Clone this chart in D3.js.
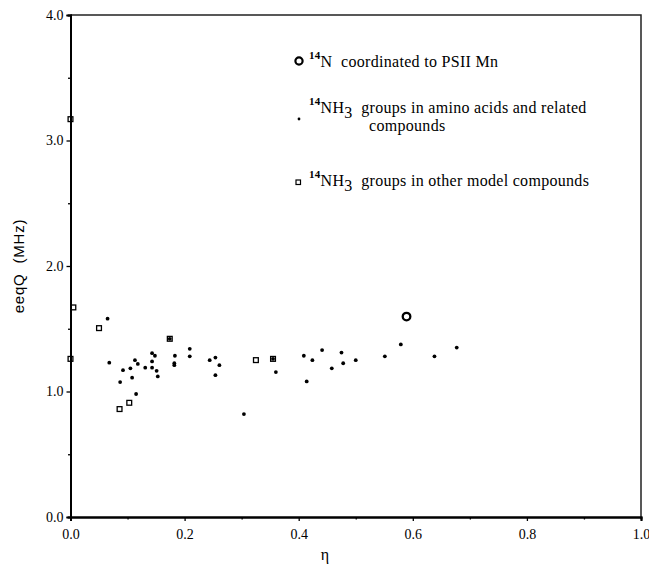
<!DOCTYPE html>
<html>
<head>
<meta charset="utf-8">
<script src="https://cdn.jsdelivr.net/npm/d3@7"></script>
<style>
  body { margin: 0; background: #fff; }
  text { fill: #000; white-space: pre; }
</style>
</head>
<body>
<div id="wrapper"></div>
<script>
// eta, eeqQ (MHz)
const psiiPoints = [[0.589, 1.597]]
const aminoPoints = [
  [0.065, 1.58], [0.068, 1.23], [0.092, 1.17], [0.087, 1.075], [0.115, 0.98],
  [0.105, 1.185], [0.108, 1.11], [0.113, 1.25], [0.118, 1.22], [0.131, 1.19],
  [0.143, 1.305], [0.148, 1.285], [0.143, 1.24], [0.143, 1.19], [0.151, 1.165],
  [0.153, 1.12], [0.174, 1.42], [0.183, 1.285], [0.182, 1.225], [0.182, 1.21],
  [0.209, 1.34], [0.209, 1.28], [0.244, 1.25], [0.254, 1.27], [0.261, 1.21],
  [0.254, 1.13], [0.304, 0.82], [0.355, 1.26], [0.36, 1.155], [0.409, 1.285],
  [0.414, 1.08], [0.424, 1.25], [0.441, 1.33], [0.458, 1.185], [0.475, 1.31],
  [0.478, 1.225], [0.50, 1.25], [0.551, 1.28], [0.579, 1.375], [0.638, 1.28],
  [0.677, 1.35]
]
const modelPoints = [
  [0.0, 3.17], [0.005, 1.67], [0.0, 1.26], [0.05, 1.505], [0.086, 0.86],
  [0.103, 0.91], [0.174, 1.42], [0.325, 1.25], [0.355, 1.26]
]
const xTicks = [0, 0.2, 0.4, 0.6, 0.8, 1.0]
const xMinorTicks = [0.1, 0.3, 0.5, 0.7, 0.9]
const yTicks = [0, 1, 2, 3, 4]
const yMinorTicks = [0.5, 1.5, 2.5, 3.5]

function drawChart() {
  let dimensions = {
    width: 649,
    height: 567,
    margins: { top: 15, right: 8, bottom: 50, left: 70.5 }
  }
  dimensions.boundedWidth = dimensions.width
    - dimensions.margins.left
    - dimensions.margins.right
  dimensions.boundedHeight = dimensions.height
    - dimensions.margins.top
    - dimensions.margins.bottom

  const wrapper = d3.select("#wrapper")
    .append("svg")
      .attr("width", dimensions.width)
      .attr("height", dimensions.height)

  const bounds = wrapper.append("g")
    .attr("transform", `translate(${dimensions.margins.left},${dimensions.margins.top})`)

  const xScale = d3.scaleLinear()
    .domain([0, 1])
    .range([0, dimensions.boundedWidth])
  const yScale = d3.scaleLinear()
    .domain([0, 4])
    .range([dimensions.boundedHeight, 0])

  // frame (top / right)
  bounds.append("path")
    .attr("d", `M0,0H${dimensions.boundedWidth}V${dimensions.boundedHeight}`)
    .attr("fill", "none")
    .attr("stroke", "#222")
    .attr("stroke-width", 1.5)

  // axes
  const serif = "Liberation Serif"
  const xAxis = bounds.append("g")
    .attr("transform", `translate(0,${dimensions.boundedHeight})`)
    .call(d3.axisBottom(xScale).tickValues(xTicks).tickFormat(d3.format(".1f")).tickSize(4).tickPadding(8))
  const xMinor = bounds.append("g")
    .attr("transform", `translate(0,${dimensions.boundedHeight})`)
    .call(d3.axisBottom(xScale).tickValues(xMinorTicks).tickFormat("").tickSize(2.5))
  const yAxis = bounds.append("g")
    .call(d3.axisLeft(yScale).tickValues(yTicks).tickFormat(d3.format(".1f")).tickSize(4).tickPadding(3))
  const yMinor = bounds.append("g")
    .call(d3.axisLeft(yScale).tickValues(yMinorTicks).tickFormat("").tickSize(2.5))

  ;[xAxis, xMinor, yAxis, yMinor].forEach(g => {
    g.attr("font-family", serif).attr("font-size", 14)
    g.select(".domain").attr("stroke", "#000").attr("stroke-width", 2)
    g.selectAll(".tick line").attr("stroke", "#000").attr("stroke-width", 1.3)
    g.selectAll("text").attr("fill", "#222")
  })

  // data
  bounds.append("g").selectAll("circle")
    .data(aminoPoints)
    .join("circle")
      .attr("cx", d => xScale(d[0]))
      .attr("cy", d => yScale(d[1]))
      .attr("r", 1.9)
      .attr("fill", "#000")

  bounds.append("g").selectAll("rect")
    .data(modelPoints)
    .join("rect")
      .attr("x", d => xScale(d[0]) - 2.4)
      .attr("y", d => yScale(d[1]) - 2.4)
      .attr("width", 4.8)
      .attr("height", 4.8)
      .attr("fill", "none")
      .attr("stroke", "#000")
      .attr("stroke-width", 1.3)

  bounds.append("g").selectAll("circle")
    .data(psiiPoints)
    .join("circle")
      .attr("cx", d => xScale(d[0]))
      .attr("cy", d => yScale(d[1]))
      .attr("r", 3.8)
      .attr("fill", "none")
      .attr("stroke", "#000")
      .attr("stroke-width", 2.3)

  // axis labels
  wrapper.append("text")
    .attr("transform", "translate(24,266) rotate(-90)")
    .attr("text-anchor", "middle")
    .attr("font-family", "Liberation Sans")
    .attr("font-size", 15)
    .attr("letter-spacing", 0.8)
    .text("eeqQ  (MHz)")

  wrapper.append("text")
    .attr("x", 325)
    .attr("y", 560)
    .attr("text-anchor", "middle")
    .attr("font-family", serif)
    .attr("font-size", 16)
    .text("η")

  // legend
  const legend = wrapper.append("g")
    .attr("font-family", serif)
    .attr("font-size", 16)
    .attr("letter-spacing", 0.3)

  legend.append("circle")
    .attr("cx", 299).attr("cy", 61).attr("r", 3.6)
    .attr("fill", "none").attr("stroke", "#000").attr("stroke-width", 2.2)
  const l1 = legend.append("text").attr("x", 309).attr("y", 67)
  l1.append("tspan").attr("dy", -8).attr("font-size", 11).attr("font-weight", "bold").text("14")
  l1.append("tspan").attr("dy", 8).text("N  coordinated to PSII Mn")

  legend.append("circle")
    .attr("cx", 299).attr("cy", 119).attr("r", 1.4).attr("fill", "#000")
  const l2 = legend.append("text").attr("x", 309).attr("y", 113)
  l2.append("tspan").attr("dy", -8).attr("font-size", 11).attr("font-weight", "bold").text("14")
  l2.append("tspan").attr("dy", 8).text("NH")
  l2.append("tspan").attr("dy", 5).text("3")
  l2.append("tspan").attr("dy", -5).text("  groups in amino acids and related")
  legend.append("text").attr("x", 369).attr("y", 131).text("compounds")

  legend.append("rect")
    .attr("x", 296).attr("y", 180).attr("width", 4.5).attr("height", 4.5)
    .attr("fill", "none").attr("stroke", "#000").attr("stroke-width", 1.2)
  const l3 = legend.append("text").attr("x", 309).attr("y", 186)
  l3.append("tspan").attr("dy", -8).attr("font-size", 11).attr("font-weight", "bold").text("14")
  l3.append("tspan").attr("dy", 8).text("NH")
  l3.append("tspan").attr("dy", 5).text("3")
  l3.append("tspan").attr("dy", -5).text("  groups in other model compounds")
}

drawChart()
</script>
</body>
</html>
